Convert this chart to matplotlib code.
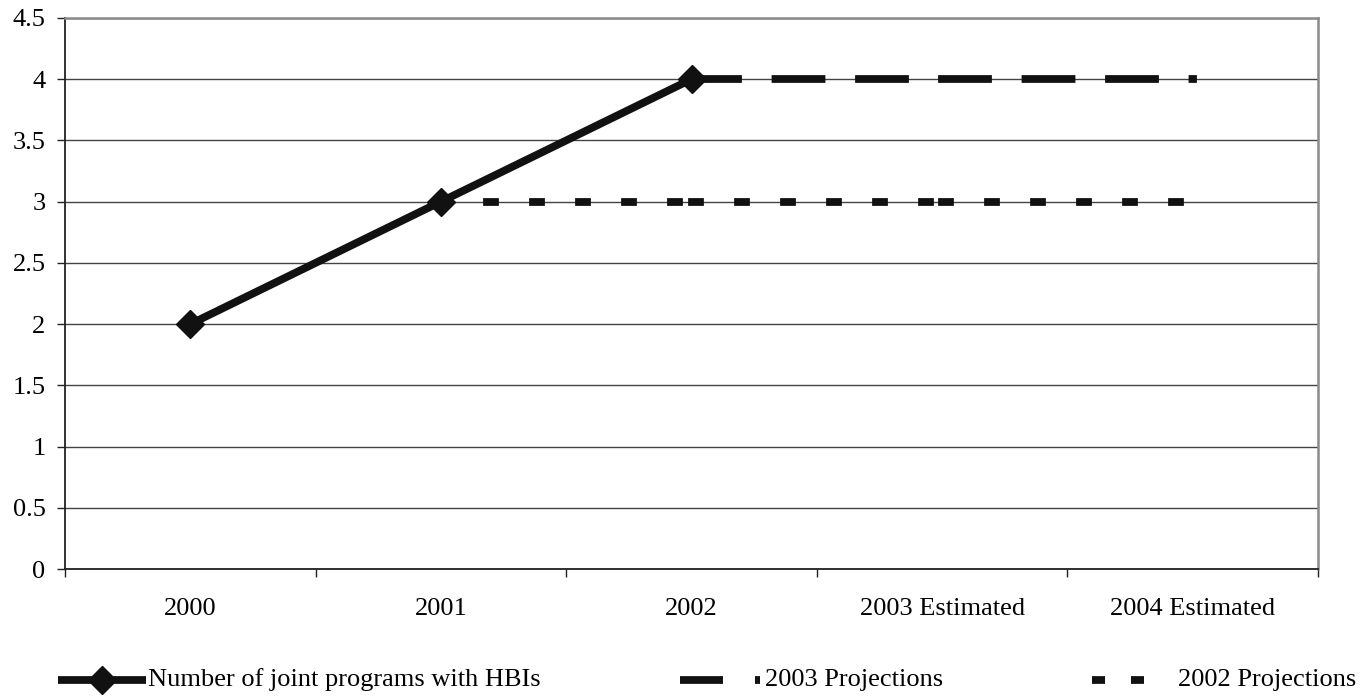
import numpy as np
import matplotlib
matplotlib.use("Agg")
import matplotlib.pyplot as plt
from matplotlib.lines import Line2D

# ---- data ----
categories = ["2000", "2001", "2002", "2003 Estimated", "2004 Estimated"]
joint_programs = [2, 3, 4, np.nan, np.nan]
projections_2003 = [np.nan, np.nan, 4, 4, 4]
projections_2002 = [np.nan, 3, 3, 3, 3]
y_ticks = [0, 0.5, 1, 1.5, 2, 2.5, 3, 3.5, 4, 4.5]
y_tick_labels = ["0", "0.5", "1", "1.5", "2", "2.5", "3", "3.5", "4", "4.5"]
legend_labels = ["Number of joint programs with HBIs", "2003 Projections", "2002 Projections"]

plt.rcParams["font.family"] = ["Liberation Serif", "DejaVu Serif"]
plt.rcParams["font.size"] = 19
plt.rcParams["lines.scale_dashes"] = False

W, H = 1366, 696
fig = plt.figure(figsize=(W / 100, H / 100), dpi=100)
ax = fig.add_axes([65 / W, 1 - 569 / H, (1318 - 65) / W, (569 - 18) / H])

INK = "#111111"
LW = 5.6
PX = 0.72  # points per pixel at 100 dpi

dash_2003 = (0, (46 * PX, 37.5 * PX))
dash_2002 = (0, (8 * PX, 38 * PX))

x = np.arange(len(categories))


def draw_segments(values, dashes):
    vals = np.asarray(values, dtype=float)
    for i in range(len(vals) - 1):
        if np.isfinite(vals[i]) and np.isfinite(vals[i + 1]):
            ax.plot(x[i:i + 2], vals[i:i + 2], color=INK, lw=LW,
                    linestyle=dashes, dash_capstyle="projecting",
                    zorder=3, clip_on=False)


draw_segments(projections_2002, dash_2002)
draw_segments(projections_2003, dash_2003)
ax.plot(x, joint_programs, color=INK, lw=LW, marker="D", markersize=14,
        markerfacecolor=INK, markeredgecolor=INK, solid_capstyle="butt",
        zorder=4, clip_on=False)

# axes and grid
ax.set_xlim(-0.5, len(categories) - 0.5)
ax.set_ylim(0, 4.5)
ax.set_yticks(y_ticks)
ax.set_yticklabels(y_tick_labels)
ax.set_xticks(np.arange(len(categories) + 1) - 0.5)
ax.set_xticklabels([""] * (len(categories) + 1))
ax.set_xticks(x, minor=True)
ax.set_xticklabels(categories, minor=True)
ax.tick_params(axis="x", which="minor", length=0, pad=21)
ax.tick_params(axis="x", which="major", length=6, width=1.0, color="#222222", direction="out")
ax.tick_params(axis="y", length=6, width=1.0, color="#222222", direction="out", pad=8)
ax.yaxis.grid(True, color="#444444", lw=1.0)
ax.set_axisbelow(True)
for side in ("left", "bottom"):
    ax.spines[side].set_color("#222222")
    ax.spines[side].set_linewidth(1.3)
for side in ("top", "right"):
    ax.spines[side].set_color("#8a8a8a")
    ax.spines[side].set_linewidth(1.8)


# legend drawn along the bottom of the figure
def fx(px):
    return px / W


def fy(py):
    return 1 - py / H


ly = 680
fig.add_artist(Line2D([fx(58), fx(146)], [fy(ly), fy(ly)], color=INK, lw=LW,
                      solid_capstyle="butt", transform=fig.transFigure))
fig.add_artist(Line2D([fx(102)], [fy(ly)], color=INK, marker="D", markersize=14,
                      transform=fig.transFigure))
fig.text(fx(148), fy(ly), legend_labels[0], va="center", ha="left")

fig.add_artist(Line2D([fx(680), fx(760)], [fy(ly), fy(ly)], color=INK, lw=LW,
                      linestyle=(0, (43 * PX, 32 * PX)), dash_capstyle="butt",
                      transform=fig.transFigure))
fig.text(fx(765), fy(ly), legend_labels[1], va="center", ha="left")

fig.add_artist(Line2D([fx(1092), fx(1144)], [fy(ly), fy(ly)], color=INK, lw=LW,
                      linestyle=(0, (13 * PX, 26 * PX)), dash_capstyle="butt",
                      transform=fig.transFigure))
fig.text(fx(1178), fy(ly), legend_labels[2], va="center", ha="left")

fig.savefig("out.png", dpi=100, facecolor="white")
